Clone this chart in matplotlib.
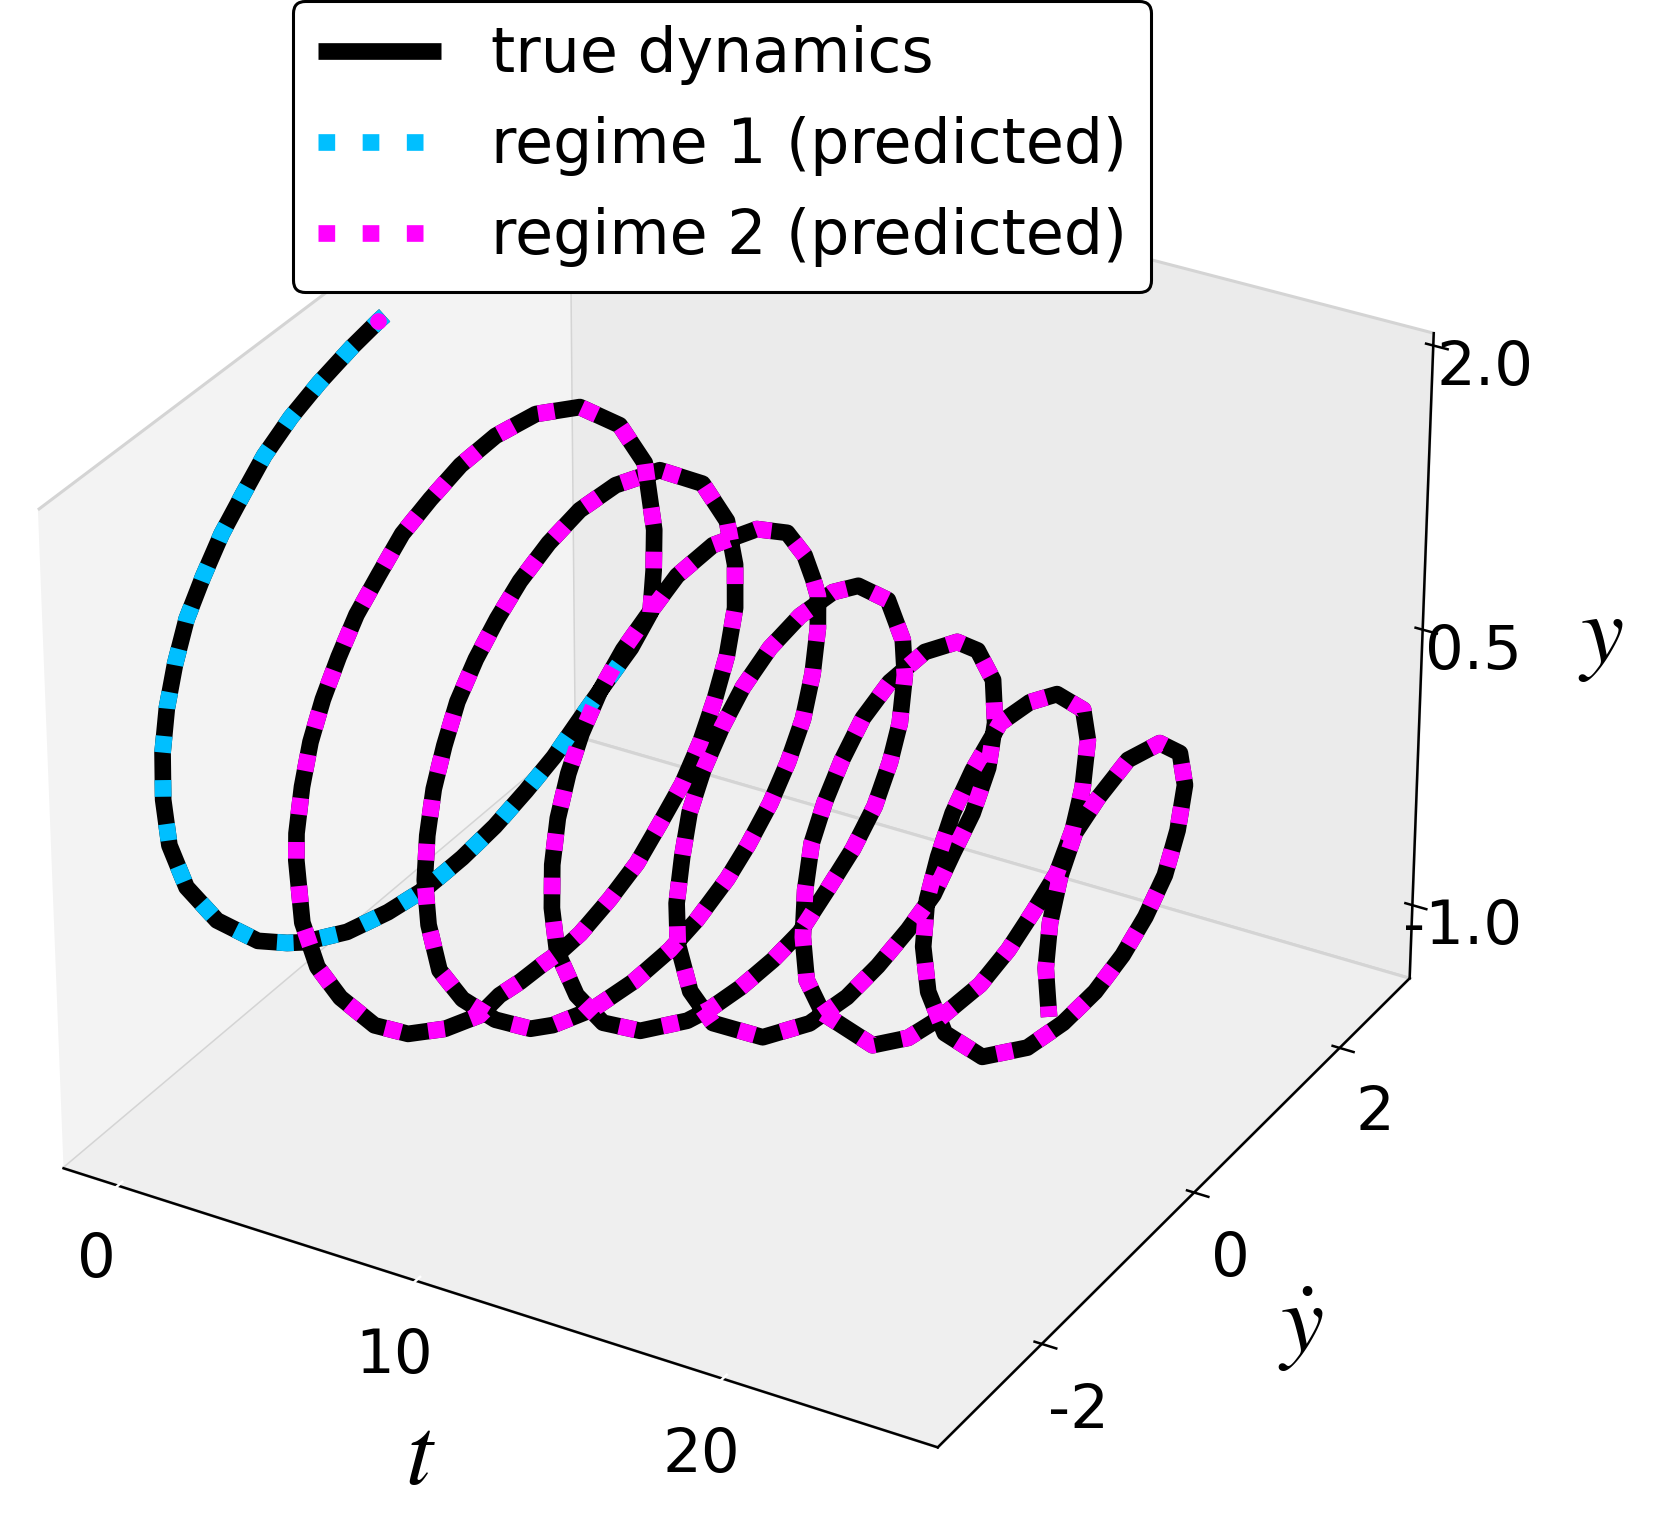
import numpy as np
import matplotlib
matplotlib.use('Agg')
import matplotlib.pyplot as plt

plt.rcParams['axes.unicode_minus'] = False
plt.rcParams['mathtext.fontset'] = 'stix'
plt.rcParams['axes.linewidth'] = 1.8
plt.rcParams['xtick.major.width'] = 1.8
plt.rcParams['ytick.major.width'] = 1.8

# valores
t = [0.00,0.015,0.08,0.16,0.24,0.31,0.37,0.44,0.52,0.59,0.67,0.74,0.85,0.88,0.98,1.09,1.22,1.34,1.42,1.46,1.56,
     1.66,1.74,1.82,1.90,1.97,2.04,2.12,2.21,2.31,2.46,2.55,2.55,2.72,2.89,3.06,3.21,3.34,3.44,3.54,3.63,
     3.71,3.80,3.87,3.95,4.03,4.12,4.25,4.25,4.37,4.49,4.60,4.72,4.82,4.92,5.01,5.06,5.11,5.17,5.21,5.26,
     5.34,5.42,5.49,5.57,5.64,5.72,5.80,5.95,5.95,6.12,6.30,6.51,6.67,6.80,6.91,7.02,7.11,7.20,7.30,7.38,
     7.46,7.56,7.65,7.75,7.86,7.99,8.12,8.24,8.31,8.42,8.53,8.63,8.71,8.81,8.88,8.96,9.05,9.14,9.23,9.35,
     9.35,9.50,9.59,9.73,9.89,10.09,10.23,10.36,10.46,10.58,10.68,10.78,10.89,11.05,11.05,11.18,11.34,11.47,11.62,11.77,
     11.84,11.94,12.04,12.13,12.22,12.32,12.43,12.53,12.62,12.75,12.85,13.05,13.26,13.40,13.56,13.70,13.84,13.95,14.08,14.19,
     14.29,14.45,14.51,14.67,14.82,15.04,15.21,15.34,15.44,15.55,15.66,15.75,15.86,15.99,16.15,16.26,16.48,16.65,16.85,17.05,
     17.21,17.34,17.48,17.61,17.74,17.85,17.98,18.14,18.41,18.56,18.68,18.83,18.95,19.06,19.19,19.30,19.41,19.55,19.74,20.04,
     20.24,20.44,20.62,20.77,20.92,21.08,21.25,21.40,21.57,21.79,21.99,22.14,22.27,22.40,22.52,22.65,22.77,22.95,23.16,23.42,
     23.70,23.94,24.14,24.30,24.47,24.65,25.00]

y_ponto = [0.03,-0.05,-0.39,-0.81,-1.17,-1.51,-1.78,-2.06,-2.31,-2.53,-2.70,-2.83,-2.93,-2.95,-2.93,-2.79,-2.50,-2.08,-1.77,-1.59,-1.11,
           -0.65,-0.22,0.21,0.59,0.96,1.29,1.62,1.93,2.19,2.39,2.40,2.41,2.23,1.85,1.29,0.69,0.15,-0.31,-0.71,-1.08,
           -1.39,-1.69,-1.93,-2.15,-2.33,-2.47,-2.59,-2.60,-2.59,-2.47,-2.25,-1.90,-1.54,-1.13,-0.74,-0.51,-0.27,-0.01,0.19,0.43,
           0.78,1.10,1.37,1.63,1.84,2.00,2.13,2.18,2.18,2.01,1.63,1.01,0.40,-0.09,-0.51,-0.90,-1.21,-1.50,-1.76,-1.95,
           -2.11,-2.23,-2.30,-2.30,-2.22,-2.00,-1.66,-1.28,-1.03,-0.58,-0.11,0.32,0.63,0.99,1.23,1.49,1.69,1.85,1.94,1.96,
           1.96,1.84,1.69,1.41,0.96,0.33,-0.17,-0.59,-0.92,-1.25,-1.51,-1.71,-1.88,-2.01,-2.02,-2.01,-1.84,-1.57,-1.17,-0.64,
           -0.38,-0.03,0.35,0.66,0.99,1.28,1.52,1.68,1.77,1.78,1.71,1.43,0.96,0.58,0.10,-0.33,-0.72,-1.02,-1.30,-1.51,
           -1.64,-1.77,-1.78,-1.69,-1.47,-0.93,-0.40,0.03,0.39,0.74,1.03,1.25,1.46,1.61,1.63,1.55,1.25,0.91,0.41,-0.12,
           -0.52,-0.83,-1.10,-1.31,-1.44,-1.51,-1.51,-1.37,-0.84,-0.44,-0.08,0.39,0.71,0.99,1.25,1.41,1.49,1.49,1.34,0.86,
           0.42,-0.05,-0.47,-0.78,-1.02,-1.22,-1.33,-1.32,-1.17,-0.77,-0.26,0.15,0.52,0.83,1.08,1.28,1.39,1.40,1.23,0.84,
           0.30,-0.19,-0.57,-0.82,-1.01,-1.13,-1.22]

y = [2.010,2.008,1.988,1.946,1.894,1.814,1.713,1.605,1.474,1.337,1.169,0.990,0.798,0.562,0.319,0.050,-0.231,-0.495,-0.621,-0.684,-0.806,
     -0.868,-0.898,-0.885,-0.849,-0.787,-0.717,-0.610,-0.510,-0.424,-0.292,-0.058,0.162,0.597,0.939,1.234,1.407,1.481,1.489,1.454,1.405,
     1.305,1.206,1.075,0.936,0.783,0.604,0.410,0.273,-0.056,-0.333,-0.577,-0.856,-1.038,-1.165,-1.238,-1.214,-1.229,-1.229,-1.237,-1.224,
     -1.160,-1.077,-0.955,-0.827,-0.669,-0.485,-0.286,-0.035,0.203,0.508,0.848,1.143,1.281,1.325,1.303,1.246,1.163,1.061,0.937,0.780,
     0.616,0.421,0.217,-0.015,-0.282,-0.515,-0.751,-0.942,-1.016,-1.099,-1.124,-1.108,-1.059,-0.961,-0.862,-0.725,-0.564,-0.382,-0.160,0.086,
     0.261,0.399,0.587,0.812,0.996,1.140,1.161,1.104,1.050,0.958,0.837,0.704,0.539,0.351,0.127,-0.102,-0.391,-0.637,-0.829,-0.973,
     -1.006,-1.020,-1.009,-0.972,-0.854,-0.737,-0.587,-0.399,-0.215,0.049,0.269,0.593,0.845,0.952,1.004,0.996,0.937,0.844,0.728,0.589,
     0.409,0.221,0.012,-0.264,-0.512,-0.788,-0.911,-0.928,-0.892,-0.823,-0.735,-0.585,-0.442,-0.243,0.001,0.267,0.543,0.718,0.853,0.894,
     0.858,0.760,0.643,0.515,0.325,0.108,-0.113,-0.334,-0.699,-0.808,-0.836,-0.828,-0.756,-0.651,-0.532,-0.353,-0.145,0.117,0.343,0.614,
     0.740,0.810,0.725,0.623,0.491,0.349,0.154,-0.080,-0.349,-0.621,-0.761,-0.780,-0.748,-0.663,-0.544,-0.388,-0.181,0.067,0.310,0.518,
     0.641,0.633,0.600,0.473,0.312,0.130,-0.074]

t_fim_regime_1 = 2.31
t_inicio_regime_2 = 2.46

ticks_t = [0, 10, 20]
ticks_y_ponto = [-2, 0, 2]
ticks_y = [-1.0, 0.5, 2.0]

t = np.array(t)
y_ponto = np.array(y_ponto)
y = np.array(y)

fig = plt.figure(figsize=(16.63, 15.27), dpi=100)
ax = fig.add_subplot(projection='3d', computed_zorder=False)
ax.set_proj_type('persp', focal_length=1.232)
ax.set_position([-0.0323, -0.0166, 0.9373, 1.0208])
ax.grid(False)

# paineis opacos, como na figura
for eixo, cor in [(ax.xaxis, '#f3f3f3'), (ax.yaxis, '#ebebeb'), (ax.zaxis, '#efefef')]:
    eixo.set_pane_color(cor)
    eixo.pane.set_edgecolor('#d4d4d4')
    eixo.pane.set_linewidth(2.2)

ax.plot(t, y_ponto, y, color='k', lw=12, solid_capstyle='butt', zorder=1, label='true dynamics')
reg1 = t <= t_fim_regime_1
ax.plot(t[reg1], y_ponto[reg1], y[reg1], color='deepskyblue', ls=':', lw=12, zorder=2, label='regime 1 (predicted)')
reg2 = t >= t_inicio_regime_2
ax.plot(t[1], y_ponto[1], y[1], 'o', color='magenta', ms=12, mew=0, zorder=3)
ax.plot(t[reg2], y_ponto[reg2], y[reg2], color='magenta', ls=':', lw=12, zorder=3, label='regime 2 (predicted)')

ax.set_xlim(-1.857, 26.835)
ax.set_ylim(-3.314, 2.996)
ax.set_zlim(-1.406, 2.064)
ax.set_xticks(ticks_t)
ax.set_yticks(ticks_y_ponto)
ax.set_zticks(ticks_y)
ax.set_zticklabels(['%.1f' % v for v in ticks_y])
ax.tick_params(labelsize=44)
ax.tick_params(axis='x', color='white', pad=16)
ax.tick_params(axis='y', pad=16)
ax.tick_params(axis='z', pad=14.5)

ax.yaxis.set_rotate_label(False)
ax.zaxis.set_rotate_label(False)
ax.set_xlabel('$t$', fontsize=70, labelpad=58)
ax.set_ylabel(r'$\dot{y}$', fontsize=70, labelpad=58, rotation=0)
ax.set_zlabel('$y$', fontsize=70, labelpad=58, rotation=0)

leg = fig.legend(loc='upper center', bbox_to_anchor=(0.4343, 0.9995), fontsize=44.5,
                 borderaxespad=0, framealpha=1)
leg.get_frame().set_edgecolor('k')
leg.get_frame().set_linewidth(2.2)

fig.savefig('out.png', dpi=100)
